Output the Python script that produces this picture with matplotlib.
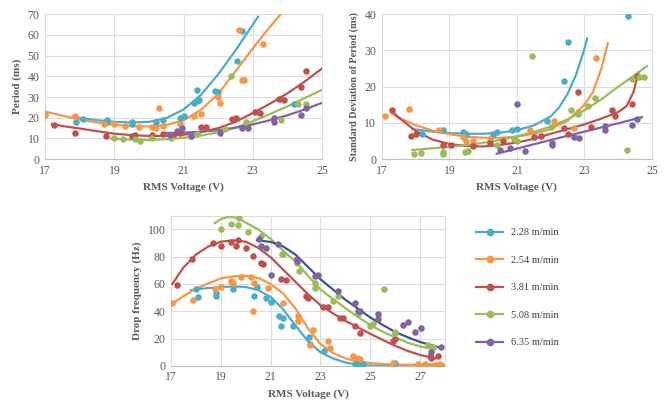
import numpy as np
import matplotlib.pyplot as plt

plt.rcParams['font.family'] = ['Liberation Serif', 'DejaVu Serif']

labels = ['2.28 m/min', '2.54 m/min', '3.81 m/min', '5.08 m/min', '6.35 m/min']
colors = ['#4bacc6', '#f79646', '#c0504d', '#9bbb59', '#8064a2']
trend_colors = ['#4bacc6', '#f79646', '#c0504d', '#9bbb59', '#8064a2']
frq_trend_colors = ['#4bacc6', '#f79646', '#c0504d', '#9bbb59', '#3b5594']

# ---------- Period (ms): measured points
per_x_228 = [17.9, 18.1, 18.8, 18.8, 19.5, 19.5, 20.2, 20.4, 20.9, 21.0, 21.3, 21.4, 21.4, 21.45, 21.9, 22.0, 22.55, 22.7, 24.2]
per_y_228 = [18, 19.5, 19, 18, 18, 17, 18, 19, 20, 21, 27, 28, 33.5, 28.5, 33, 32.5, 47.5, 62, 26.5]
per_x_254 = [17.0, 17.0, 17.85, 18.7, 19.0, 19.3, 19.7, 20.1, 20.2, 20.3, 20.4, 20.9, 21.3, 21.5, 22.0, 22.05, 22.6, 22.7, 22.75, 23.3]
per_y_254 = [21.5, 22, 21, 17, 17, 16, 15.5, 15.5, 15, 24.5, 16, 17, 21, 22, 30, 27, 62.5, 38, 38, 55.5]
per_x_381 = [17.25, 17.85, 18.75, 19.5, 19.6, 20.1, 20.4, 20.7, 20.9, 21.5, 21.65, 22.4, 22.5, 23.05, 23.2, 23.75, 23.9, 24.4, 24.55]
per_y_381 = [16.5, 12.5, 11, 11, 11.5, 11.5, 12, 11.5, 12.5, 15.5, 15.5, 19.5, 20, 23, 22.5, 29, 28.5, 35, 42.5]
per_x_508 = [19.0, 19.25, 19.6, 19.75, 20.1, 20.65, 21.2, 21.4, 22.2, 22.37, 22.8, 23.8, 24.3, 24.55]
per_y_508 = [10, 9.5, 9.5, 9, 10, 10, 11, 12, 14.5, 40, 18, 19, 26.5, 26.5]
per_x_635 = [20.6, 20.8, 20.95, 21.2, 22.05, 22.7, 22.85, 23.6, 23.6, 24.4, 24.55]
per_y_635 = [11.5, 13.5, 15, 11, 12.5, 15, 15, 18, 20, 21.5, 24.5]

# Period: trendline values
per_tx_228 = [17.8, 18.5, 19.0, 19.5, 20.0, 20.5, 21.0, 21.5, 22.0, 22.5, 23.0, 23.15]
per_ty_228 = [20.4, 18.8, 18.0, 17.7, 18.0, 19.8, 24.0, 31.0, 41.0, 52.5, 65.0, 68.8]
per_tx_254 = [17.0, 17.5, 18.0, 18.5, 19.0, 19.5, 20.0, 20.5, 21.0, 21.5, 22.0, 22.5, 23.0, 23.5, 23.8]
per_ty_254 = [23.0, 21.0, 19.2, 17.7, 16.6, 15.9, 15.8, 16.5, 18.7, 23.8, 31.5, 42.5, 53.5, 64.0, 70.0]
per_tx_381 = [17.2, 17.5, 18.0, 18.5, 19.0, 19.5, 20.0, 20.5, 21.0, 21.5, 22.0, 22.5, 23.0, 23.5, 24.0, 24.5, 25.0]
per_ty_381 = [17.0, 16.0, 14.8, 13.5, 12.3, 11.6, 11.2, 11.2, 11.8, 13.0, 15.0, 18.0, 22.3, 26.8, 31.8, 37.5, 43.8]
per_tx_508 = [18.9, 19.5, 20.0, 20.5, 21.0, 21.5, 22.0, 22.5, 23.0, 23.5, 24.0, 24.5, 25.0]
per_ty_508 = [10.0, 9.4, 9.3, 9.6, 10.3, 11.4, 13.0, 15.2, 18.3, 21.8, 25.5, 29.5, 33.5]
per_tx_635 = [20.4, 21.0, 21.5, 22.0, 22.5, 23.0, 23.5, 24.0, 24.5, 25.0]
per_ty_635 = [12.6, 12.8, 13.3, 14.0, 15.2, 16.8, 18.8, 21.2, 24.0, 27.2]

# ---------- Standard deviation of period (ms): measured points
std_x_228 = [18.2, 18.8, 19.4, 19.5, 20.3, 20.4, 20.85, 21.0, 21.9, 22.4, 22.5, 24.3]
std_y_228 = [7, 8, 7.5, 7, 7, 7.5, 8, 8.3, 10.5, 21.5, 32.3, 39.5]
std_x_254 = [17.1, 17.8, 18.7, 19.4, 19.5, 19.7, 20.2, 21.4, 22.1, 22.7, 22.8, 23.35]
std_y_254 = [12, 13.8, 8, 6, 5, 5, 5.5, 8, 10.5, 8.5, 13, 28]
std_x_381 = [17.3, 17.85, 18.0, 18.8, 19.05, 19.7, 20.2, 20.6, 21.5, 21.7, 22.4, 22.5, 22.8, 23.2, 23.8, 23.9, 24.4, 24.55]
std_y_381 = [13.5, 6.5, 7, 4, 4, 3.5, 4.5, 5, 6, 6.5, 8.5, 7, 18.5, 8.8, 13.5, 12, 15.2, 23]
std_x_508 = [17.95, 18.15, 18.8, 18.8, 19.45, 19.55, 20.4, 20.9, 21.0, 21.45, 22.0, 22.6, 22.8, 23.1, 23.3, 24.25, 24.4, 24.6, 24.75]
std_y_508 = [1.5, 1.8, 2, 1.5, 2, 2.3, 4, 5.5, 5, 28.5, 9, 13.5, 12.5, 14.8, 16.8, 2.5, 22, 22.8, 22.8]
std_x_635 = [20.5, 20.8, 21.0, 21.25, 22.05, 22.05, 22.7, 22.85, 23.6, 23.6, 24.4, 24.55]
std_y_635 = [2.5, 3.2, 15.2, 2.3, 4, 4.5, 6.2, 5.8, 8, 9.2, 9.5, 11]

# Standard deviation: trendline values
std_tx_228 = [17.9, 18.5, 19.0, 19.5, 20.0, 20.5, 21.0, 21.5, 22.0, 22.25, 22.5, 22.75, 23.0, 23.08]
std_ty_228 = [8.3, 7.6, 7.2, 7.0, 7.0, 7.3, 8.0, 9.3, 11.8, 14.3, 18.0, 23.3, 30.5, 33.3]
std_tx_254 = [17.3, 17.5, 18.0, 18.5, 19.0, 19.5, 20.0, 20.5, 21.0, 21.5, 22.0, 22.5, 23.0, 23.25, 23.5, 23.69]
std_ty_254 = [12.5, 11.4, 9.4, 7.9, 6.9, 6.2, 5.9, 5.9, 6.2, 7.0, 8.3, 10.6, 15.0, 18.5, 25.0, 32.0]
std_tx_381 = [17.3, 17.5, 18.0, 18.5, 19.0, 19.5, 20.0, 20.5, 21.0, 21.5, 22.0, 22.5, 23.0, 23.5, 24.0, 24.25, 24.45, 24.6]
std_ty_381 = [13.3, 11.5, 7.8, 5.4, 4.2, 3.6, 3.5, 3.9, 4.6, 5.6, 7.0, 8.3, 9.6, 11.2, 13.0, 14.7, 18.5, 24.0]
std_tx_508 = [17.9, 18.5, 19.0, 19.5, 20.0, 20.5, 21.0, 21.5, 22.0, 22.5, 23.0, 23.5, 24.0, 24.5, 24.85]
std_ty_508 = [2.5, 3.0, 3.4, 3.9, 4.5, 5.3, 6.3, 7.5, 9.0, 11.0, 13.5, 16.5, 20.0, 23.3, 25.7]
std_tx_635 = [20.4, 21.0, 22.0, 23.0, 24.0, 24.7]
std_ty_635 = [1.5, 2.9, 5.3, 7.6, 9.9, 11.6]

# ---------- Drop frequency (Hz): measured points
frq_x_228 = [18.0, 18.1, 18.8, 18.8, 19.5, 20.35, 20.45, 20.8, 21.0, 21.35, 21.4, 21.5, 21.9, 22.55, 22.6, 23.15, 24.4, 24.55, 24.7, 26.0, 27.85]
frq_y_228 = [56, 50.5, 51, 53.5, 56, 51.5, 58, 49.5, 46.5, 36.5, 29.5, 35, 29.5, 21, 16, 11, 1.7, 1.7, 1.7, 2, 0.5]
frq_x_254 = [17.05, 17.9, 18.75, 19.0, 19.4, 19.5, 19.8, 20.2, 20.35, 20.3, 20.9, 21.5, 22.1, 22.1, 22.6, 22.7, 23.3, 23.4, 24.3, 24.5, 24.6, 25.9, 26.9, 27.2, 27.6, 27.8]
frq_y_254 = [46, 48, 56, 58, 62, 61, 65, 65, 60.5, 40, 57, 46, 36.5, 33, 15.5, 26, 18, 13, 7, 5.5, 5, 2, 1.5, 1.5, 1, 1.5]
frq_x_381 = [17.25, 17.85, 18.7, 19.0, 19.4, 19.6, 19.7, 20.0, 20.3, 20.6, 20.7, 21.4, 21.6, 22.4, 22.5, 23.1, 23.3, 23.8, 23.9, 24.4, 24.6, 25.9, 26.0, 27.4, 27.45, 27.7]
frq_y_381 = [59.5, 78.5, 90, 88, 91, 88, 92.5, 86, 80.5, 75.5, 74.5, 64, 63, 51.5, 50, 43, 43.5, 35, 35, 29.5, 24, 18.5, 20, 7, 5.5, 7]
frq_x_508 = [19.0, 19.4, 19.7, 19.75, 20.1, 20.6, 21.45, 21.5, 22.05, 22.15, 22.8, 22.8, 23.5, 23.7, 24.5, 25.0, 25.1, 25.55, 26.0, 26.0, 27.3, 27.5]
frq_y_508 = [100.5, 104, 103.5, 108, 98, 95.5, 82, 82, 75, 69.5, 61, 57, 47.5, 51, 38, 29, 31, 56, 25, 24, 15, 14]
frq_x_635 = [20.55, 20.6, 20.8, 21.0, 21.3, 22.05, 22.05, 22.8, 22.9, 23.7, 24.4, 24.5, 24.6, 25.3, 25.3, 26.3, 26.5, 26.8, 27.05, 27.45, 27.85]
frq_y_635 = [93, 88, 86, 66.5, 89, 78.5, 77, 66, 66.5, 55, 46, 40, 40, 38, 34, 30, 32, 25, 27.5, 10, 14]

# Drop frequency: trendline values
frq_tx_228 = [17.8, 18.3, 19.0, 19.5, 20.0, 20.5, 21.0, 21.5, 22.0, 22.5, 23.0, 23.5, 24.0, 24.5, 25.0, 26.0, 27.0, 27.8]
frq_ty_228 = [55.5, 56.7, 57.7, 58.2, 57.8, 55.5, 50.5, 41.5, 29.5, 18.0, 10.0, 5.5, 2.5, 0.8, 0.2, 0.0, 0.3, 0.8]
frq_tx_254 = [17.0, 17.5, 18.0, 18.5, 19.0, 19.5, 20.0, 20.5, 21.0, 21.5, 22.0, 22.5, 23.0, 23.5, 24.0, 24.5, 25.0, 26.0, 27.0, 27.85]
frq_ty_254 = [45.0, 51.0, 56.5, 60.5, 64.0, 65.6, 66.0, 64.5, 60.0, 53.0, 42.0, 27.5, 16.0, 9.5, 5.5, 3.3, 2.0, 0.8, 0.9, 1.5]
frq_tx_381 = [17.05, 17.5, 18.0, 18.5, 19.0, 19.5, 20.0, 20.5, 21.0, 21.5, 22.0, 22.5, 23.0, 23.5, 24.0, 24.5, 25.0, 25.5, 26.0, 26.5, 27.0, 27.6]
frq_ty_381 = [60.0, 72.0, 81.5, 87.5, 91.0, 92.0, 91.0, 86.5, 79.6, 70.5, 61.5, 52.5, 44.5, 38.5, 33.0, 28.3, 23.5, 19.0, 14.7, 11.0, 8.0, 5.5]
frq_tx_508 = [18.75, 19.0, 19.25, 19.5, 19.75, 20.0, 20.5, 21.0, 21.5, 22.0, 22.5, 23.0, 23.5, 24.0, 24.5, 25.0, 25.5, 26.0, 26.5, 27.0, 27.6]
frq_ty_508 = [104.5, 107.5, 108.8, 109.0, 107.5, 105.0, 100.0, 93.0, 84.5, 76.5, 66.0, 56.0, 49.0, 42.3, 35.8, 30.0, 25.0, 21.0, 17.0, 14.3, 12.0]
frq_tx_635 = [20.45, 21.0, 21.5, 22.0, 22.5, 23.0, 23.5, 24.0, 24.5, 25.0, 25.5, 26.0, 26.5, 27.0, 27.5, 27.8]
frq_ty_635 = [92.0, 90.8, 87.5, 81.5, 72.5, 63.5, 56.0, 48.5, 42.0, 35.5, 30.0, 24.8, 21.0, 17.5, 15.0, 13.3]

per = [(per_x_228, per_y_228, per_tx_228, per_ty_228), (per_x_254, per_y_254, per_tx_254, per_ty_254),
       (per_x_381, per_y_381, per_tx_381, per_ty_381), (per_x_508, per_y_508, per_tx_508, per_ty_508),
       (per_x_635, per_y_635, per_tx_635, per_ty_635)]
std = [(std_x_228, std_y_228, std_tx_228, std_ty_228), (std_x_254, std_y_254, std_tx_254, std_ty_254),
       (std_x_381, std_y_381, std_tx_381, std_ty_381), (std_x_508, std_y_508, std_tx_508, std_ty_508),
       (std_x_635, std_y_635, std_tx_635, std_ty_635)]
frq = [(frq_x_228, frq_y_228, frq_tx_228, frq_ty_228), (frq_x_254, frq_y_254, frq_tx_254, frq_ty_254),
       (frq_x_381, frq_y_381, frq_tx_381, frq_ty_381), (frq_x_508, frq_y_508, frq_tx_508, frq_ty_508),
       (frq_x_635, frq_y_635, frq_tx_635, frq_ty_635)]

fig = plt.figure(figsize=(6.64, 4.07), dpi=100)
ax1 = fig.add_axes([0.068, 0.609, 0.417, 0.356])
ax2 = fig.add_axes([0.575, 0.609, 0.407, 0.356])
ax3 = fig.add_axes([0.2575, 0.101, 0.4127, 0.369])


def draw(ax, series, tcols):
    for i, (x, y, tx, ty) in enumerate(series):
        ax.plot(tx, ty, color=tcols[i], lw=1.6, zorder=3, solid_joinstyle='round')
        ax.scatter(x, y, s=22, color=colors[i], zorder=4, linewidths=0)


def style(ax, xlim, ylim, yticks, ylabel, ylsize=8):
    ax.set_xlim(*xlim)
    ax.set_ylim(*ylim)
    ax.set_yticks(yticks)
    ax.grid(True, color='#dcdcdc', lw=0.8)
    ax.set_axisbelow(True)
    for s in ['top', 'right', 'left']:
        ax.spines[s].set_color('#dcdcdc')
    ax.spines['bottom'].set_color('#bfbfbf')
    ax.tick_params(length=0, labelsize=8.5, labelcolor='#595959', pad=4)
    ax.set_xlabel('RMS Voltage (V)', fontsize=8, fontweight='bold', color='#595959', labelpad=4)
    ax.set_ylabel(ylabel, fontsize=ylsize, fontweight='bold', color='#595959', labelpad=4)


draw(ax1, per, trend_colors)
style(ax1, (17, 25), (0, 70), range(0, 71, 10), 'Period (ms)')
ax1.set_xticks(range(17, 26, 2))

draw(ax2, std, trend_colors)
style(ax2, (17, 25), (0, 40), range(0, 41, 10), 'Standard Deviation of Period (ms)', ylsize=7.3)
ax2.set_xticks(range(17, 26, 2))

draw(ax3, frq, frq_trend_colors)
style(ax3, (17, 28), (0, 110), range(0, 101, 20), 'Drop frequency (Hz)')
ax3.set_xticks(range(17, 28, 2))

handles = [plt.Line2D([], [], color=colors[i], lw=1.6, marker='o', ms=4.5) for i in range(5)]
fig.legend(handles, labels, loc='upper left', bbox_to_anchor=(0.703, 0.463), frameon=False,
           fontsize=7.5, labelspacing=1.75, handlelength=2.6, handletextpad=0.7,
           labelcolor='#404040')

fig.savefig('out.png', dpi=100)
